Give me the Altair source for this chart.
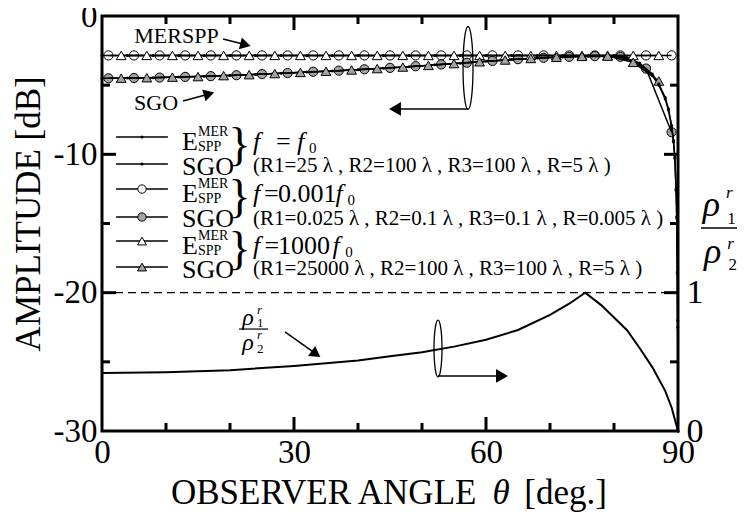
import altair as alt
import pandas as pd

FONT = "Liberation Serif"
W, H = 576, 415
GRAY = "#a3a3a3"

# ---------------- data ----------------
# f = 0.001 f0 (circle markers)
ang_lo = [1, 5, 9, 13, 17, 21, 25, 29, 33, 37, 41, 45, 49, 53, 57, 61, 65, 69, 73, 77, 81, 85, 89]
emer_lo = [-2.85, -2.85, -2.85, -2.85, -2.85, -2.85, -2.85, -2.85, -2.85, -2.85, -2.85, -2.85,
           -2.85, -2.85, -2.85, -2.85, -2.85, -2.85, -2.85, -2.85, -2.85, -2.85, -2.85]
sgo_lo = [-4.50, -4.48, -4.45, -4.40, -4.35, -4.28, -4.20, -4.12, -4.03, -3.95, -3.85, -3.75,
          -3.63, -3.50, -3.38, -3.25, -3.12, -3.02, -2.95, -2.90, -2.95, -3.80, -8.40]

# f = 1000 f0 (triangle markers)
ang_hi = [3, 7, 11, 15, 19, 23, 27, 31, 35, 39, 43, 47, 51, 55, 59, 63, 67, 71, 75, 79, 83, 87]
emer_hi = [-2.85, -2.85, -2.85, -2.85, -2.85, -2.85, -2.85, -2.85, -2.85, -2.85, -2.85,
           -2.85, -2.85, -2.85, -2.85, -2.85, -2.85, -2.85, -2.85, -2.85, -2.85, -2.85]
sgo_hi = [-4.49, -4.46, -4.42, -4.38, -4.31, -4.24, -4.16, -4.08, -3.99, -3.90, -3.80,
          -3.69, -3.57, -3.44, -3.31, -3.18, -3.07, -2.98, -2.92, -2.90, -3.35, -4.70]

# f = f0 (small dots)
ang_f0 = [0, 4, 8, 12, 16, 20, 24, 28, 32, 36, 40, 44, 48, 52, 56, 60, 64, 68, 72, 76, 80,
          82, 84, 86, 87, 88, 88.5, 89, 89.3, 89.5, 89.7, 89.8, 89.9, 89.95, 90]
emer_f0 = [-2.85, -2.85, -2.85, -2.85, -2.85, -2.85, -2.85, -2.85, -2.85, -2.85, -2.85,
           -2.85, -2.85, -2.85, -2.85, -2.85, -2.85, -2.85, -2.85, -2.85, -2.85,
           -3.0, -3.4, -4.2, -4.9, -5.9, -6.7, -7.9, -9.0, -10.2, -12.5, -14.5, -18.5, -22.0, -30.0]
sgo_f0 = [-4.50, -4.48, -4.46, -4.41, -4.36, -4.30, -4.22, -4.14, -4.05, -3.97, -3.88,
          -3.77, -3.66, -3.53, -3.41, -3.28, -3.15, -3.04, -2.96, -2.91, -2.92,
          -3.1, -3.5, -4.3, -5.0, -6.0, -6.8, -8.0, -9.1, -10.3, -12.6, -14.6, -18.6, -22.5, -30.0]

# rho1r / rho2r (right axis)
ang_rho = [0, 10, 20, 30, 40, 45, 50, 55, 60, 65, 70, 73, 75.5, 78, 80, 82, 84, 86, 88, 89, 90]
rho = [0.42, 0.425, 0.44, 0.47, 0.51, 0.54, 0.57, 0.61, 0.66, 0.73, 0.84, 0.92, 1.0,
       0.91, 0.82, 0.73, 0.60, 0.46, 0.29, 0.17, 0.0]

x_ticks = [0, 30, 60, 90]
y_ticks = [0, -10, -20, -30]
r_ticks = [0, 1]
x_minor = [10, 20, 40, 50, 70, 80]
x_major = [30, 60]
y_minor = [-5, -15, -25]
y_major = [-10, -20]

# ---------------- scales / encodings ----------------
xs = alt.Scale(domain=[0, 90], nice=False, zero=False)
ys = alt.Scale(domain=[-30, 0], nice=False, zero=False)
rs = alt.Scale(domain=[0, 3], nice=False, zero=False)

X_AX = alt.Axis(values=x_ticks, ticks=False, tickSize=0, domain=False, grid=False,
                labelFontSize=33, labelFont=FONT, labelColor="black", labelPadding=5,
                labelFlush=False, labelOverlap=False, labelBaseline="top", title=None)
Y_AX = alt.Axis(values=y_ticks, ticks=False, tickSize=0, domain=False, grid=False,
                labelFontSize=33, labelFont=FONT, labelColor="black", labelPadding=5,
                labelFlush=False, labelOverlap=False, labelBaseline="middle",
                labelExpr="'' + datum.value", title=None)
R_AX = alt.Axis(orient="right", values=r_ticks, ticks=False, tickSize=0, domain=False,
                grid=False, labelFontSize=34, labelFont=FONT, labelColor="black",
                labelPadding=8, labelFlush=False, labelOverlap=False,
                labelBaseline="middle", labelExpr="'' + datum.value", title=None)

X = alt.X("x:Q", scale=xs, axis=X_AX)
X2 = alt.X2("x2:Q")
Y = alt.Y("y:Q", scale=ys, axis=Y_AX)
Y2 = alt.Y2("y2:Q")
YR = alt.Y("r:Q", scale=rs, axis=R_AX)

DB_PX = 30 / H      # dB per pixel
DEG_PX = 90 / W     # degree per pixel


def frame(xv, yv, name):
    return pd.DataFrame({"x": xv, "y": yv, "s": name})


def pts(df, **kw):
    base = dict(opacity=1, strokeOpacity=1, fillOpacity=1)
    base.update(kw)
    return alt.Chart(df).mark_point(**base).encode(x=X, y=Y)


def txt(x, y, s, size, italic=False, align="left", angle=None, baseline="middle"):
    kw = dict(font=FONT, fontSize=size, align=align, baseline=baseline, color="black")
    if italic:
        kw["fontStyle"] = "italic"
    if angle is not None:
        kw["angle"] = angle
    d = pd.DataFrame({"x": [x], "y": [y], "t": [s]})
    return alt.Chart(d).mark_text(**kw).encode(x=X, y=Y, text="t:N")


def hrule(x1, x2, y, w=1.5, dash=None):
    kw = dict(color="black", strokeWidth=w)
    if dash:
        kw["strokeDash"] = dash
    d = pd.DataFrame({"x": [x1], "x2": [x2], "y": [y]})
    return alt.Chart(d).mark_rule(**kw).encode(x=X, x2=X2, y=Y)


def seg(x1, y1, x2, y2, w=1.5):
    d = pd.DataFrame({"x": [x1, x2], "y": [y1, y2]})
    return alt.Chart(d).mark_line(color="black", strokeWidth=w).encode(x=X, y=Y)


def head(x, y, shape, angle=0, size=170):
    d = pd.DataFrame({"x": [x], "y": [y]})
    kw = dict(shape=shape, filled=True, color="black", size=size, opacity=1)
    if angle:
        kw["angle"] = angle
    return alt.Chart(d).mark_point(**kw).encode(x=X, y=Y)


def ellipse(x, y, ratio, size):
    path = f"M0,-1A{ratio},1 0 1,1 0,1A{ratio},1 0 1,1 0,-1Z"
    d = pd.DataFrame({"x": [x], "y": [y]})
    return alt.Chart(d).mark_point(shape=path, filled=False, stroke="black",
                                   strokeWidth=1.3, size=size, opacity=1).encode(x=X, y=Y)


layers = []

# ---------------- ticks (inward) ----------------
tick_rows = []
for v in x_minor + x_major:
    L = (14 if v in x_major else 8) * DB_PX
    tick_rows.append({"x": v, "y": -30, "y2": -30 + L})
    tick_rows.append({"x": v, "y": 0, "y2": -L})
vt = pd.DataFrame(tick_rows)
layers.append(alt.Chart(vt).mark_rule(color="black", strokeWidth=3).encode(x=X, y=Y, y2=Y2))
hrows = []
for v in y_minor + y_major:
    L = (14 if v in y_major else 8) * DEG_PX
    hrows.append({"x": 0, "x2": L, "y": v})
    hrows.append({"x": 90, "x2": 90 - L, "y": v})
ht = pd.DataFrame(hrows)
layers.append(alt.Chart(ht).mark_rule(color="black", strokeWidth=3).encode(x=X, x2=X2, y=Y))

# ---------------- curves ----------------
layers.append(pts(frame(ang_lo, emer_lo, "E_lo"), shape="circle", filled=True, fill="white",
                  stroke="black", strokeWidth=1, size=85))
layers.append(pts(frame(ang_lo, sgo_lo, "S_lo"), shape="circle", filled=True, fill=GRAY,
                  stroke="black", strokeWidth=1, size=85))

lines_df = pd.concat([
    frame(ang_f0, emer_f0, "E_f0"), frame(ang_f0, sgo_f0, "S_f0"),
    frame(ang_lo, emer_lo, "E_lo"), frame(ang_lo, sgo_lo, "S_lo"),
    frame(ang_hi, emer_hi, "E_hi"), frame(ang_hi, sgo_hi, "S_hi"),
])
layers.append(alt.Chart(lines_df).mark_line(color="black", strokeWidth=1.5).encode(
    x=X, y=Y, detail="s:N", order="x:Q"))

layers.append(pts(frame(ang_hi, emer_hi, "E_hi"), shape="triangle-up", filled=True,
                  fill="white", stroke="black", strokeWidth=1, size=95))
layers.append(pts(frame(ang_hi, sgo_hi, "S_hi"), shape="triangle-up", filled=True,
                  fill=GRAY, stroke="black", strokeWidth=1, size=95))
layers.append(pts(pd.concat([frame(ang_f0, emer_f0, "E_f0"), frame(ang_f0, sgo_f0, "S_f0")]),
                  shape="circle", filled=True, color="black", size=9))

# ---------------- legend ----------------
rows = [-8.75, -10.70, -12.51, -14.53, -16.27, -18.15]
for r in rows:
    layers.append(hrule(2.2, 10.3, r, w=1.5))
mk = pd.DataFrame({"x": [6.25] * 6, "y": rows})
layers.append(pts(mk.iloc[[0, 1]], shape="circle", filled=True, color="black", size=10))
layers.append(pts(mk.iloc[[2]], shape="circle", filled=True, fill="white", stroke="black",
                  strokeWidth=1, size=70))
layers.append(pts(mk.iloc[[3]], shape="circle", filled=True, fill=GRAY, stroke="black",
                  strokeWidth=1, size=70))
layers.append(pts(mk.iloc[[4]], shape="triangle-up", filled=True, fill="white", stroke="black",
                  strokeWidth=1, size=80))
layers.append(pts(mk.iloc[[5]], shape="triangle-up", filled=True, fill=GRAY, stroke="black",
                  strokeWidth=1, size=80))

freq_parts = [
    [("f", 23.6, True), ("=", 27.2, False), ("f", 30.47, True), ("0", 32.34, None)],
    [("f", 23.6, True), ("=", 25.3, False), ("0.001", 27.5, False), ("f", 36.5, True), ("0", 38.35, None)],
    [("f", 23.6, True), ("=", 25.4, False), ("1000", 27.5, False), ("f", 36.0, True), ("0", 38.0, None)],
]
params = [
    "(R1=25 λ , R2=100 λ , R3=100 λ , R=5 λ )",
    "(R1=0.025 λ , R2=0.1 λ , R3=0.1 λ , R=0.005 λ )",
    "(R1=25000 λ , R2=100 λ , R3=100 λ , R=5 λ )",
]
for i in range(3):
    rE, rS = rows[2 * i], rows[2 * i + 1]
    layers.append(txt(12.5, rE - 0.33, "E", 26))
    layers.append(txt(15.0, rE + 0.36, "MER", 14))
    layers.append(txt(15.0, rE - 0.72, "SPP", 14))
    layers.append(txt(12.5, rS - 0.18, "SGO", 26))
    layers.append(txt(21.5, (rE + rS) / 2 + 0.33, "}", 46, align="center"))
    for s, xx, it in freq_parts[i]:
        if it is None:
            layers.append(txt(xx, rE - 0.8, s, 15))
        else:
            layers.append(txt(xx, rE - 0.36, s, 26, italic=it))
    layers.append(txt(23.6, rS - 0.14, params[i], 21))

# ---------------- annotations ----------------
layers.append(txt(11.64, -1.45, "MERSPP", 22, align="center"))
layers.append(seg(18.91, -1.66, 22.34, -2.06))
layers.append(head(22.42, -2.07, "triangle-right", angle=14, size=150))

layers.append(txt(8.44, -6.29, "SGO", 22, align="center"))
layers.append(seg(12.66, -6.14, 16.72, -5.64))
layers.append(head(16.72, -5.64, "triangle-right", angle=344, size=150))

layers.append(ellipse(57.19, -3.76, 0.12, 6889))
layers.append(hrule(45.9, 57.19, -6.72, w=1.5))
layers.append(head(45.78, -6.72, "triangle-left", size=190))

layers.append(ellipse(52.5, -24.04, 0.14, 3249))
layers.append(hrule(52.5, 62.4, -26.02, w=1.5))
layers.append(head(62.5, -26.02, "triangle-right", size=190))

# small rho fraction label
layers.append(txt(22.81, -21.83, "ρ", 24, italic=True, align="center"))
layers.append(txt(24.22, -21.25, "r", 13, italic=True))
layers.append(txt(24.22, -22.19, "1", 13))
layers.append(hrule(21.41, 25.94, -22.63, w=1.2))
layers.append(txt(22.81, -23.64, "ρ", 24, italic=True, align="center"))
layers.append(txt(24.22, -23.06, "r", 13, italic=True))
layers.append(txt(24.22, -24.07, "2", 13))
layers.append(seg(28.59, -22.84, 33.44, -24.43))
layers.append(head(33.44, -24.43, "triangle-right", angle=35, size=150))

# big rho fraction label (right)
layers.append(txt(95.2, -13.66, "ρ", 36, italic=True, align="center"))
layers.append(txt(97.5, -12.8, "r", 17, italic=True))
layers.append(txt(97.7, -14.7, "1", 17))
layers.append(hrule(93.6, 99.8, -15.33, w=1.5))
layers.append(txt(95.4, -17.06, "ρ", 36, italic=True, align="center"))
layers.append(txt(97.7, -16.45, "r", 17, italic=True))
layers.append(txt(97.9, -18.0, "2", 17))

# axis titles
layers.append(txt(-11.4, -14.3, "AMPLITUDE [dB]", 35, align="center", angle=270))
layers.append(txt(10.78, -34.45, "OBSERVER ANGLE", 35))
layers.append(txt(62.34, -34.45, "θ", 35, italic=True, align="center"))
layers.append(txt(78.9, -34.45, "[deg.]", 35, align="right"))

main = alt.layer(*layers)

# ---------------- rho layer (right axis) ----------------
rho_df = pd.DataFrame({"x": ang_rho, "r": rho})
rho_line = alt.Chart(rho_df).mark_line(color="black", strokeWidth=2).encode(x=X, y=YR, order="x:Q")
dash = alt.Chart(pd.DataFrame({"x": [0], "x2": [90], "r": [1]})).mark_rule(
    color="black", strokeWidth=1.3, strokeDash=[8, 5]).encode(x=X, x2=X2, y=YR)
rho_layer = alt.layer(dash, rho_line)

chart = alt.layer(main, rho_layer).resolve_scale(y="independent").properties(
    width=W, height=H,
    autosize=alt.AutoSizeParams(type="none"),
    padding={"left": 94, "top": 8, "right": 59, "bottom": 84},
).configure(font=FONT).configure_view(stroke="black", strokeWidth=3)

chart.save("out.html", embed_options={"renderer": "svg", "actions": False})
